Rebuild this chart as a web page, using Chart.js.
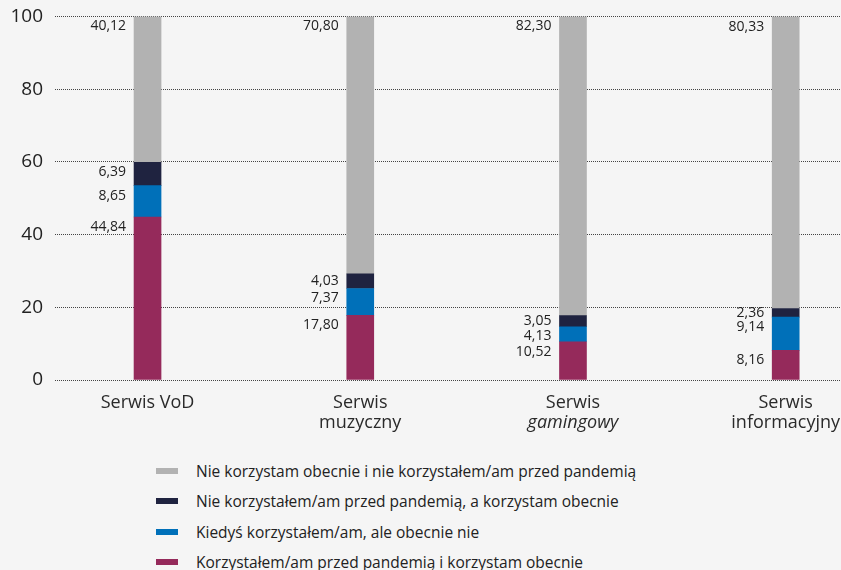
<!DOCTYPE html>
<html lang="pl">
<head>
<meta charset="utf-8">
<script src="https://cdn.jsdelivr.net/npm/chart.js@4"></script>
<style>
  html, body { margin: 0; padding: 0; background: #f5f5f5; overflow: hidden; }
  #wrap { position: relative; width: 841px; height: 570px; }
  #chart { position: absolute; left: 0; top: 0; }
  #legend { position: absolute; left: 156px; top: 456px; margin: 0; padding: 0; list-style: none;
            font-family: "Open Sans", sans-serif; font-size: 15.5px; color: #222; }
  #legend li { height: 30.3px; display: flex; align-items: center; }
  #legend span.box { display: inline-block; width: 22px; height: 6px; margin-right: 18px; }
</style>
</head>
<body>
<div id="wrap">
  <canvas id="chart" width="841" height="445"></canvas>
  <ul id="legend"></ul>
</div>
<script>
// categories, one entry per line of the axis label
const categories = [
  ["Serwis VoD"],
  ["Serwis", "muzyczny"],
  ["Serwis", "gamingowy"],
  ["Serwis", "informacyjny"]
];
const italicCategory = 2; // "gamingowy" is set in italics

const seriesNames = [
  "Korzystałem/am przed pandemią i korzystam obecnie",
  "Kiedyś korzystałem/am, ale obecnie nie",
  "Nie korzystałem/am przed pandemią, a korzystam obecnie",
  "Nie korzystam obecnie i nie korzystałem/am przed pandemią"
];
const korzystamObecnie = [44.84, 17.80, 10.52, 8.16];
const kiedysKorzystalem = [8.65, 7.37, 4.13, 9.14];
const nowiUzytkownicy = [6.39, 4.03, 3.05, 2.36];
const nieKorzystam = [40.12, 70.80, 82.30, 80.33];
const seriesColors = ["#952a5b", "#0070b9", "#1f2340", "#b2b2b2"];

const yTicks = [0, 20, 40, 60, 80, 100];
const X_MIN = -0.435, X_MAX = 3.26;

const FONT = '"Open Sans", sans-serif';
const fmt = v => v.toFixed(2).replace(".", ",");

const seriesValues = [korzystamObecnie, kiedysKorzystalem, nowiUzytkownicy, nieKorzystam];

// value labels on the left of every segment
const segmentLabels = {
  id: "segmentLabels",
  afterDatasetsDraw(chart) {
    const ctx = chart.ctx;
    ctx.save();
    ctx.font = "14px " + FONT;
    ctx.fillStyle = "#222";
    ctx.textAlign = "right";
    ctx.textBaseline = "middle";
    categories.forEach((c, i) => {
      let prev = -Infinity;
      // top-down: last dataset is on top
      for (let d = chart.data.datasets.length - 1; d >= 0; d--) {
        const el = chart.getDatasetMeta(d).data[i];
        const top = Math.min(el.y, el.base);
        const center = (el.y + el.base) / 2;
        let y = Math.min(center, top + 10);
        if (y < prev + 14.5) y = prev + 14.5;
        prev = y;
        ctx.fillText(fmt(seriesValues[d][i]), el.x - el.width / 2 - 8, y);
      }
    });
    ctx.restore();
  }
};

// category labels under the bars (one line may be italic)
const categoryLabels = {
  id: "categoryLabels",
  afterDraw(chart) {
    const ctx = chart.ctx;
    const x = chart.scales.x;
    const bottom = chart.chartArea.bottom;
    ctx.save();
    ctx.fillStyle = "#2a2a2a";
    ctx.textAlign = "center";
    ctx.textBaseline = "middle";
    categories.forEach((lines, i) => {
      lines.forEach((line, j) => {
        const italic = i === italicCategory && j === 1;
        ctx.font = (italic ? "italic " : "") + "18px " + FONT;
        ctx.fillText(line, x.getPixelForValue(i), bottom + 23 + j * 20);
      });
    });
    ctx.restore();
  }
};

const chart = new Chart(document.getElementById("chart"), {
  type: "bar",
  data: {
    datasets: seriesValues.map((vals, d) => ({
      label: seriesNames[d],
      data: vals.map((v, i) => ({ x: i, y: v })),
      backgroundColor: seriesColors[d],
      barThickness: 27,
      borderWidth: 0
    }))
  },
  options: {
    responsive: false,
    animation: false,
    devicePixelRatio: 1,
    layout: { padding: { top: 16.5, bottom: 65, left: 0, right: 0 } },
    plugins: { legend: { display: false }, tooltip: { enabled: false } },
    scales: {
      x: {
        type: "linear",
        stacked: true,
        offset: false,
        min: X_MIN,
        max: X_MAX,
        display: false
      },
      y: {
        stacked: true,
        min: 0,
        max: 100,
        afterBuildTicks: s => { s.ticks = yTicks.map(v => ({ value: v })); },
        afterFit: s => {
          s.width = 55;
          // the layout padding already leaves room for the end labels
          s.paddingTop = 0;
          s.paddingBottom = 0;
        },
        ticks: { padding: 12, color: "#222", font: { family: FONT, size: 19 } },
        grid: { color: "#444", lineWidth: 1, drawTicks: false },
        border: { display: false, dash: [1, 1] }
      }
    }
  },
  plugins: [segmentLabels, categoryLabels]
});

// legend, top item is the top segment
const legend = document.getElementById("legend");
chart.data.datasets.slice().reverse().forEach(ds => {
  const li = document.createElement("li");
  const box = document.createElement("span");
  box.className = "box";
  box.style.background = ds.backgroundColor;
  li.appendChild(box);
  li.appendChild(document.createTextNode(ds.label));
  legend.appendChild(li);
});
</script>
</body>
</html>
